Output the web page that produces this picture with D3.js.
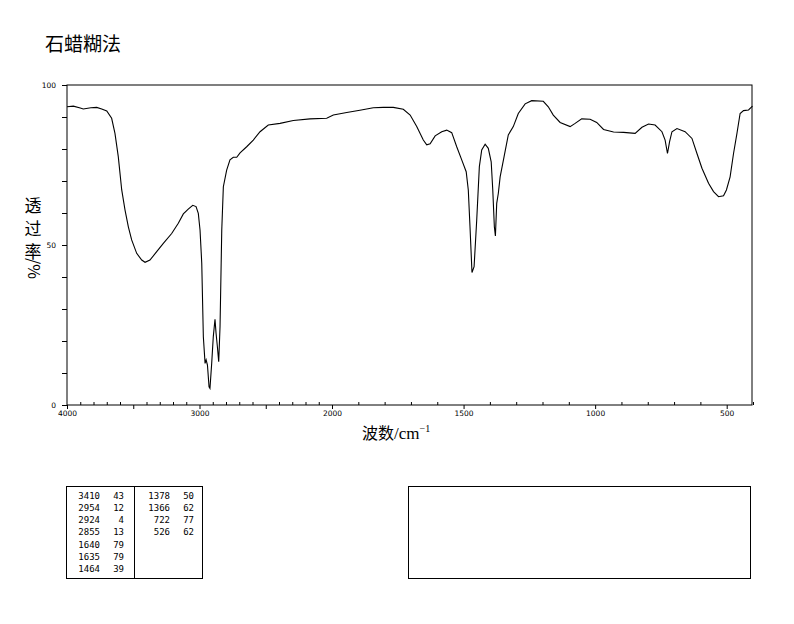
<!DOCTYPE html>
<html><head><meta charset="utf-8">
<script src="https://cdn.jsdelivr.net/npm/d3@7/dist/d3.min.js"></script>
<style>body{margin:0;background:#fff}svg{display:block}</style>
</head><body>
<svg id="c" width="794" height="624"></svg>
<script>
const title = "石蜡糊法";
const wavenumber = [4000,3952,3900,3877,3820,3776,3738,3700,3663,3638,3613,3587,3562,3537,3512,3474,3436,3411,3374,3323,3273,3210,3160,3122,3085,3051,3026,3009,2996,2983,2971,2958,2950,2940,2928,2921,2908,2896,2883,2875,2865,2855,2845,2832,2820,2795,2770,2745,2719,2694,2644,2594,2543,2481,2392,2292,2166,2040,1995,1944,1894,1843,1805,1767,1729,1703,1678,1653,1640,1627,1608,1583,1564,1545,1526,1507,1490,1482,1475,1468,1460,1450,1440,1431,1418,1406,1395,1389,1383,1379,1374,1368,1361,1346,1330,1311,1292,1266,1241,1197,1178,1159,1133,1095,1076,1051,1019,994,968,930,892,848,822,797,772,746,734,725,717,708,689,658,632,613,594,569,550,531,512,501,487,474,461,449,436,417,402];
const transmittance = [93.2,93.4,92.8,92.5,92.9,93.0,92.5,91.9,89.6,84.9,77.6,67.2,60.9,55.7,51.6,47.4,45.3,44.6,45.3,47.9,50.5,53.6,56.8,59.7,61.2,62.4,62.0,59.9,54.7,44.3,21.3,13.0,14.1,12.5,5.7,5.2,13.0,21.3,26.8,22.4,18.2,13.5,24.5,54.7,68.2,73.4,76.6,77.4,77.4,78.8,80.7,82.8,85.4,87.5,88.0,88.9,89.4,89.6,90.6,91.4,92.1,92.9,93.0,93.0,92.4,90.6,87.0,82.8,81.3,81.6,84.1,85.4,85.9,85.1,80.7,76.6,72.9,67.2,54.7,41.4,43.2,57.8,74.5,79.7,81.5,80.2,76.0,67.2,55.7,52.8,63.0,66.1,71.3,77.6,84.4,87.0,91.1,94.1,95.1,94.9,93.2,90.6,88.3,87.0,88.0,89.4,89.3,88.3,86.1,85.3,85.2,84.9,86.8,87.8,87.5,85.4,82.8,78.6,82.3,85.4,86.4,85.4,83.3,78.6,74.0,69.3,66.7,65.1,65.4,67.2,71.3,78.6,84.9,91.1,92.0,92.2,93.4];
const xMajorTicks = [4000,3500,3000,2500,2000,1500,1000,500];
const xTickLabels = [4000,3000,2000,1500,1000,500];
const yTicks = [0,10,20,30,40,50,60,70,80,90,100];
const yTickLabels = [0,50,100];
const peakCol1 = [[3410,43],[2954,12],[2924,4],[2855,13],[1640,79],[1635,79],[1464,39]];
const peakCol2 = [[1378,50],[1366,62],[722,77],[526,62]];

const svg = d3.select("#c");
const L=67, R=753, T=85, B=405;
const x = d3.scaleLinear().domain([4000,2000,400]).range([L,332,R]);
const y = d3.scaleLinear().domain([0,100]).range([B,T]);

svg.append("text").attr("x",45).attr("y",51).attr("font-family","Noto Sans CJK SC")
  .attr("font-size",19).text(title);

// minor x ticks (inside, upward)
const minor = d3.range(4000,399,-100).filter(v=>v%500!==0);
const gMinor = svg.append("g").attr("transform",`translate(0,${B})`)
  .call(d3.axisBottom(x).tickValues(minor).tickSize(-3).tickFormat(""));
gMinor.select(".domain").remove();
const gx = svg.append("g").attr("transform",`translate(0,${B})`)
  .call(d3.axisBottom(x).tickValues(xMajorTicks).tickSize(4).tickPadding(2)
    .tickFormat(d=>xTickLabels.includes(d)?d:""));
gx.select(".domain").remove();
gx.selectAll("text").attr("font-family","DejaVu Sans").attr("font-size",7.5).attr("fill","#000");
svg.selectAll(".tick line").attr("stroke","#000");

const gy = svg.append("g").attr("transform",`translate(${L},0)`)
  .call(d3.axisLeft(y).tickValues(yTicks).tickSize(5).tickPadding(6)
    .tickFormat(d=>yTickLabels.includes(d)?d:""));
gy.select(".domain").remove();
gy.selectAll("text").attr("font-family","DejaVu Sans").attr("font-size",7.5).attr("fill","#000");
gy.selectAll("line").attr("stroke","#000");

svg.append("rect").attr("x",L).attr("y",T).attr("width",R-L-1).attr("height",B-T)
  .attr("fill","none").attr("stroke","#000").attr("stroke-width",1);

const data = wavenumber.map((w,i)=>[w,transmittance[i]]);
svg.append("path").datum(data)
  .attr("d", d3.line().x(d=>x(d[0])).y(d=>y(d[1])))
  .attr("fill","none").attr("stroke","#000").attr("stroke-width",1.1);

// y label
const ylab = svg.append("g").attr("font-family","Noto Sans CJK SC").attr("font-size",17);
["透","过","率"].forEach((ch,i)=>ylab.append("text").attr("x",33).attr("y",212+i*23)
  .attr("text-anchor","middle").text(ch));
ylab.append("text").attr("transform","translate(28,258) rotate(90)").attr("font-size",16).text("/%");

// x label
const xl = svg.append("text").attr("x",362).attr("y",439).attr("font-size",16)
  .attr("font-family","Noto Sans CJK SC");
xl.append("tspan").text("波数");
xl.append("tspan").attr("font-family","Liberation Serif").attr("font-size",17).text("/cm");
xl.append("tspan").attr("font-family","Liberation Serif").attr("font-size",10).attr("dy",-7).text("−1");

// peak table
svg.append("rect").attr("x",66.5).attr("y",486.5).attr("width",136).attr("height",92)
  .attr("fill","none").attr("stroke","#000");
svg.append("line").attr("x1",134.5).attr("x2",134.5).attr("y1",486.5).attr("y2",578.5).attr("stroke","#000");
const tf = {"font-family":"DejaVu Sans Mono","font-size":9};
function col(rows, xw, xv){
  rows.forEach((r,i)=>{
    const yy = 498.5 + i*12.3;
    svg.append("text").attr("x",xw).attr("y",yy).attr("text-anchor","end")
      .attr("font-family",tf["font-family"]).attr("font-size",tf["font-size"]).text(r[0]);
    svg.append("text").attr("x",xv).attr("y",yy).attr("text-anchor","end")
      .attr("font-family",tf["font-family"]).attr("font-size",tf["font-size"]).text(r[1]);
  });
}
col(peakCol1, 100, 124);
col(peakCol2, 170, 194);
svg.append("rect").attr("x",408.5).attr("y",486.5).attr("width",342).attr("height",92)
  .attr("fill","none").attr("stroke","#000");
</script>
</body></html>
